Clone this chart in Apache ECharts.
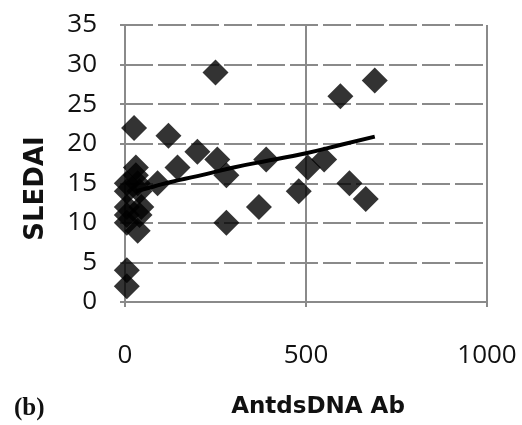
<!DOCTYPE html>
<html><head><meta charset="utf-8">
<script src="https://cdn.jsdelivr.net/npm/echarts@6/dist/echarts.min.js"></script>
<style>html,body{margin:0;padding:0;background:#fff}#c{width:522px;height:425px}</style>
</head><body><div id="c"></div>
<script>
// Data
const antiDsDNA = [5, 5, 5, 5, 5, 30, 30, 35, 40, 45, 40, 35, 5, 5, 25, 90, 120, 145, 200, 250, 255, 280, 280, 370, 390, 480, 505, 550, 595, 620, 665, 690];
const sledai    = [15, 14, 12, 11, 10, 17, 16, 15, 14, 12, 11, 9, 4, 2, 22, 15, 21, 17, 19, 29, 18, 16, 10, 12, 18, 14, 17, 18, 26, 15, 13, 28];
const trendX = [30, 80, 130, 200, 300, 400, 500, 600, 690];
const trendY = [14.0, 14.6, 15.2, 15.9, 17.0, 17.9, 18.8, 19.9, 20.9];
const xTicks = [0, 500, 1000];
const yTicks = [0, 5, 10, 15, 20, 25, 30, 35];

const chart = echarts.init(document.getElementById('c'));
const font = 'Open Sans, Liberation Sans, sans-serif';
const boldFont = 'DejaVu Sans, sans-serif';
chart.setOption({
  animation: false,
  grid: {left: 125, right: 35, top: 25, bottom: 123},
  xAxis: {
    type: 'value', min: xTicks[0], max: xTicks[xTicks.length-1], interval: 500,
    axisLine: {lineStyle: {color: '#8a8a8a', width: 2}},
    axisTick: {show: true, length: 5, lineStyle: {color: '#8a8a8a', width: 2}},
    splitLine: {show: true, lineStyle: {color: '#8a8a8a', width: 2}},
    axisLabel: {color: '#111', fontSize: 26, fontFamily: font, margin: 41, formatter: v => String(v)},
    name: 'AntdsDNA Ab', nameLocation: 'middle', nameGap: 94,
    nameTextStyle: {color: '#111', fontSize: 23, fontWeight: 'bold', fontFamily: boldFont, padding: [0, 0, 0, 24]}
  },
  yAxis: {
    type: 'value', min: yTicks[0], max: yTicks[yTicks.length-1], interval: 5,
    axisLine: {show: true, lineStyle: {color: '#8a8a8a', width: 2}},
    axisTick: {show: true, length: 5, lineStyle: {color: '#8a8a8a', width: 2}},
    splitLine: {show: true, lineStyle: {color: '#8a8a8a', width: 2, type: [28, 5]}},
    axisLabel: {color: '#111', fontSize: 26, fontFamily: font, margin: 28},
    name: 'SLEDAI', nameLocation: 'middle', nameGap: 76,
    nameTextStyle: {color: '#111', fontSize: 26, fontWeight: 'bold', fontFamily: boldFont, padding: [0, 50, 0, 0]}
  },
  graphic: [{
    type: 'text', left: 14, top: 396,
    style: {text: '(b)', fontSize: 25, fontWeight: 'bold', fontFamily: 'Liberation Serif, serif', fill: '#111'}
  }],
  series: [{
    type: 'scatter', symbol: 'diamond', symbolSize: 26,
    itemStyle: {color: '#000'},
    data: antiDsDNA.map((x, i) => [x, sledai[i]]),
    z: 3
  }, {
    type: 'line', smooth: true, symbol: 'none',
    lineStyle: {color: '#000', width: 4},
    data: trendX.map((x, i) => [x, trendY[i]]),
    z: 4
  }]
});
</script></body></html>
